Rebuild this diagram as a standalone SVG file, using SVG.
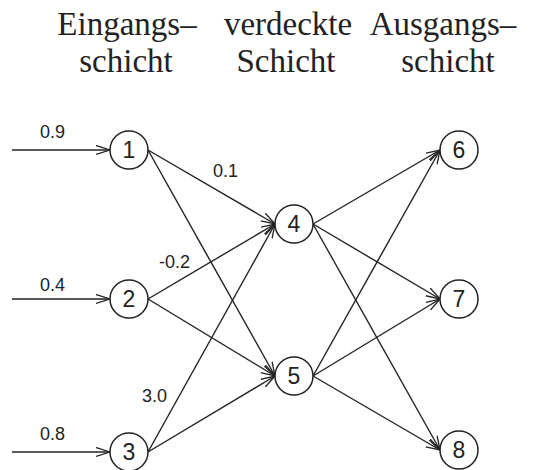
<svg xmlns="http://www.w3.org/2000/svg" width="535" height="470" viewBox="0 0 535 470">
<defs>
<marker id="arr" markerUnits="userSpaceOnUse" markerWidth="16" markerHeight="12" refX="14" refY="5" orient="auto">
<path d="M0,0.5 L14,5 L0,9.5" fill="none" stroke="#222" stroke-width="1.3"/>
</marker>
<style>
.e{stroke:#222;stroke-width:1.4;fill:none;marker-end:url(#arr)}
.n circle{fill:#fff;stroke:#222;stroke-width:1.5}
.n text{font-family:"Liberation Sans",Arial,sans-serif;font-size:23px;fill:#222;text-anchor:middle}
.w{font-family:"Liberation Sans",Arial,sans-serif;font-size:18px;fill:#222}
.h{font-family:"Liberation Serif","Times New Roman",serif;font-size:33px;fill:#222;text-anchor:middle}
</style>
</defs>
<rect width="535" height="470" fill="#fff"/>
<g id="headers">
<text class="h" x="127" y="35">Eingangs–</text>
<text class="h" x="126" y="72">schicht</text>
<text class="h" x="288" y="35">verdeckte</text>
<text class="h" x="286" y="72">Schicht</text>
<text class="h" x="443" y="35">Ausgangs–</text>
<text class="h" x="448" y="72">schicht</text>
</g>
<g id="connectors">
<line class="e" x1="12" y1="150" x2="110" y2="150"/>
<line class="e" x1="12" y1="299" x2="110" y2="299"/>
<line class="e" x1="12" y1="452" x2="110" y2="452"/>
<line class="e" x1="148" y1="150" x2="275" y2="224"/>
<line class="e" x1="148" y1="150" x2="275" y2="376"/>
<line class="e" x1="148" y1="299" x2="275" y2="224"/>
<line class="e" x1="148" y1="299" x2="275" y2="376"/>
<line class="e" x1="148" y1="452" x2="275" y2="224"/>
<line class="e" x1="148" y1="452" x2="275" y2="376"/>
<line class="e" x1="313" y1="224" x2="440" y2="150"/>
<line class="e" x1="313" y1="224" x2="440" y2="299"/>
<line class="e" x1="313" y1="224" x2="440" y2="450"/>
<line class="e" x1="313" y1="376" x2="440" y2="150"/>
<line class="e" x1="313" y1="376" x2="440" y2="299"/>
<line class="e" x1="313" y1="376" x2="440" y2="450"/>
</g>
<g id="weights">
<text class="w" x="40" y="138">0.9</text>
<text class="w" x="40" y="291">0.4</text>
<text class="w" x="40" y="440">0.8</text>
<text class="w" x="213" y="177">0.1</text>
<text class="w" x="159" y="268">-0.2</text>
<text class="w" x="142" y="402">3.0</text>
</g>
<g id="n1" class="n"><circle cx="129" cy="150" r="19"/><text x="129" y="158">1</text></g>
<g id="n2" class="n"><circle cx="129" cy="299" r="19"/><text x="129" y="307">2</text></g>
<g id="n3" class="n"><circle cx="129" cy="452" r="19"/><text x="129" y="460">3</text></g>
<g id="n4" class="n"><circle cx="294" cy="224" r="19"/><text x="294" y="232">4</text></g>
<g id="n5" class="n"><circle cx="294" cy="376" r="19"/><text x="294" y="384">5</text></g>
<g id="n6" class="n"><circle cx="459" cy="150" r="19"/><text x="459" y="158">6</text></g>
<g id="n7" class="n"><circle cx="459" cy="299" r="19"/><text x="459" y="307">7</text></g>
<g id="n8" class="n"><circle cx="459" cy="450" r="19"/><text x="459" y="458">8</text></g>
</svg>
